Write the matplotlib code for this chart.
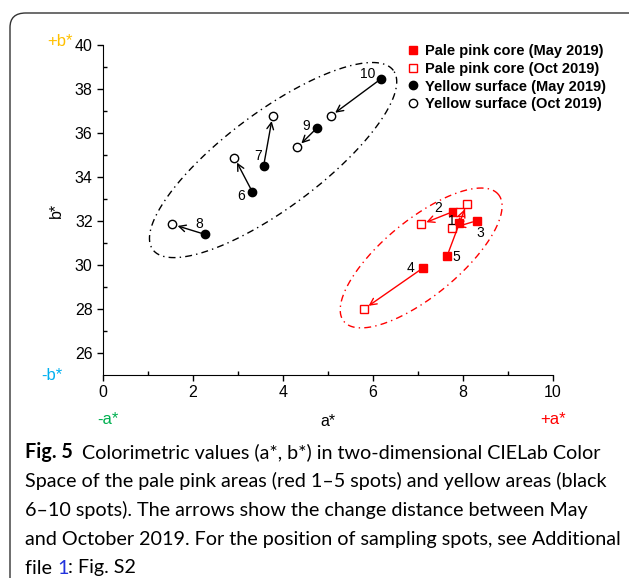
import numpy as np
import matplotlib
matplotlib.use("Agg")
import matplotlib.pyplot as plt
from matplotlib.patches import FancyBboxPatch

plt.rcParams['font.family'] = ['Liberation Sans', 'DejaVu Sans']

# pale pink core spots 1-5 (red)
red_ids = ['1', '2', '3', '4', '5']
red_may_a = [7.92, 7.77, 8.30, 7.10, 7.65]
red_may_b = [31.93, 32.42, 32.01, 29.85, 30.43]
red_oct_a = [7.93, 7.07, 7.75, 5.80, 8.08]
red_oct_b = [32.43, 31.85, 31.67, 28.00, 32.77]

# yellow surface spots 6-10 (black)
blk_ids = ['6', '7', '8', '9', '10']
blk_may_a = [3.32, 3.57, 2.27, 4.76, 6.17]
blk_may_b = [33.32, 34.51, 31.39, 36.24, 38.45]
blk_oct_a = [2.92, 3.77, 1.54, 4.32, 5.06]
blk_oct_b = [34.88, 36.79, 31.85, 35.35, 36.77]

x_ticks = [0, 2, 4, 6, 8, 10]
y_ticks = [26, 28, 30, 32, 34, 36, 38, 40]

# label offsets (pixels) from the May point
red_off = [(-8, 2), (-14, 4), (4, -12), (-12, 0), (9, -1)]
blk_off = [(-11, -4), (-6, 10), (-6, 10), (-11, 2), (-13, 5)]

fig = plt.figure(figsize=(6.29, 5.78), dpi=100)
ax = fig.add_axes([103/629, 1-375/578, 450/629, 330/578])

ax.set_xlim(0, 10)
ax.set_ylim(25, 40)
ax.spines['top'].set_visible(False)
ax.spines['right'].set_visible(False)
ax.set_xticks(x_ticks)
ax.set_yticks(y_ticks)
ax.set_xticks(np.arange(1, 10, 2), minor=True)
ax.set_yticks(np.arange(27, 40, 2), minor=True)
ax.tick_params(which='major', direction='out', length=4, width=1, labelsize=11.5)
ax.tick_params(which='minor', direction='in', length=3, width=1)
ax.set_xlabel('a*', fontsize=11.5, labelpad=10)
ax.set_ylabel('b*', fontsize=11.5, labelpad=8)

def arrows(xa, ya, xb, yb, color):
    for x0, y0, x1, y1 in zip(xa, ya, xb, yb):
        ax.annotate('', xy=(x1, y1), xytext=(x0, y0),
                    arrowprops=dict(arrowstyle='->', color=color, lw=1,
                                    shrinkA=3, shrinkB=4, mutation_scale=12))

arrows(red_may_a, red_may_b, red_oct_a, red_oct_b, 'red')
arrows(blk_may_a, blk_may_b, blk_oct_a, blk_oct_b, 'black')

ax.plot(red_may_a, red_may_b, 's', color='red', ms=6, ls='none', label='Pale pink core (May 2019)')
ax.plot(red_oct_a, red_oct_b, 's', mfc='white', mec='red', mew=1, ms=6, ls='none', label='Pale pink core (Oct 2019)')
ax.plot(blk_may_a, blk_may_b, 'o', color='black', ms=6, ls='none', label='Yellow surface (May 2019)')
ax.plot(blk_oct_a, blk_oct_b, 'o', mfc='white', mec='black', mew=1, ms=6, ls='none', label='Yellow surface (Oct 2019)')

for t, x, y, off in zip(red_ids, red_may_a, red_may_b, red_off):
    ax.annotate(t, (x, y), xytext=off, textcoords='offset pixels', fontsize=10,
                ha='center', va='center')
for t, x, y, off in zip(blk_ids, blk_may_a, blk_may_b, blk_off):
    ax.annotate(t, (x, y), xytext=off, textcoords='offset pixels', fontsize=10,
                ha='center', va='center')

# dash-dot ellipses drawn in pixel units, converted to data
def ellipse(cx, cy, a, b, ang, color):
    t = np.linspace(0, 2*np.pi, 300)
    th = np.radians(ang)
    dx = a*np.cos(t)*np.cos(th) - b*np.sin(t)*np.sin(th)
    dy = a*np.cos(t)*np.sin(th) + b*np.sin(t)*np.cos(th)
    ax.plot(cx + dx/45.0, cy + dy/22.0, color=color, lw=1, ls=(0, (5, 3, 1, 3)))

ellipse(3.78, 34.77, 150, 48, 36.7, 'black')
ellipse(7.07, 30.32, 100, 38, 39.4, 'red')

leg = ax.legend(loc='upper left', bbox_to_anchor=(0.66, 1.02), frameon=False,
                prop=dict(weight='bold', size=10.5), handletextpad=0.3,
                labelspacing=0.25, handlelength=1.0, borderaxespad=0)

# colour-axis hints
fig.text(60/629, 1-42/578, '+b*', color='#ffc000', fontsize=12, ha='center', va='center')
fig.text(52/629, 1-375/578, '-b*', color='#00b0f0', fontsize=12, ha='center', va='center')
fig.text(108/629, 1-420/578, '-a*', color='#00b050', fontsize=12, ha='center', va='center')
fig.text(553/629, 1-420/578, '+a*', color='#ff0000', fontsize=12, ha='center', va='center')

# caption, font size fitted so the longest line spans the same width as the reference
cfam = ['Lato', 'DejaVu Sans']
cap = ['Space of the pale pink areas (red 1\u20135 spots) and yellow areas (black',
       '6\u201310 spots). The arrows show the change distance between May',
       'and October 2019. For the position of sampling spots, see Additional']
r = fig.canvas.get_renderer()
probe = fig.text(0, 0, cap[0], fontsize=14, family=cfam)
w = probe.get_window_extent(r).width
probe.remove()
fs = 14 * 585 / w

x0 = 25/629
hd = fig.text(x0, 1-452/578, 'Fig. 5', fontsize=fs, weight='bold', family=cfam, va='center')
hw = hd.get_window_extent(r).width
fig.text(x0 + (hw + 9)/629, 1-452/578, 'Colorimetric values (a*, b*) in two-dimensional CIELab Color',
         fontsize=fs, family=cfam, va='center')
for i, line in enumerate(cap):
    fig.text(x0, 1-(481 + 29*i)/578, line, fontsize=fs, family=cfam, va='center')
t1 = fig.text(x0, 1-568/578, 'file ', fontsize=fs, family=cfam, va='center')
w1 = t1.get_window_extent(r).width
t2 = fig.text(x0 + w1/629, 1-568/578, '1', fontsize=fs, family=cfam, va='center', color='#2233dd')
w2 = t2.get_window_extent(r).width
fig.text(x0 + (w1 + w2)/629, 1-568/578, ': Fig. S2', fontsize=fs, family=cfam, va='center')

box = FancyBboxPatch((10/629, -0.1), 1.1, 1.1 - 13/578,
                     boxstyle='round,pad=0,rounding_size=0.025',
                     transform=fig.transFigure, fill=False, ec='#333333', lw=1)
fig.patches.append(box)

fig.savefig('out.png', dpi=100)
